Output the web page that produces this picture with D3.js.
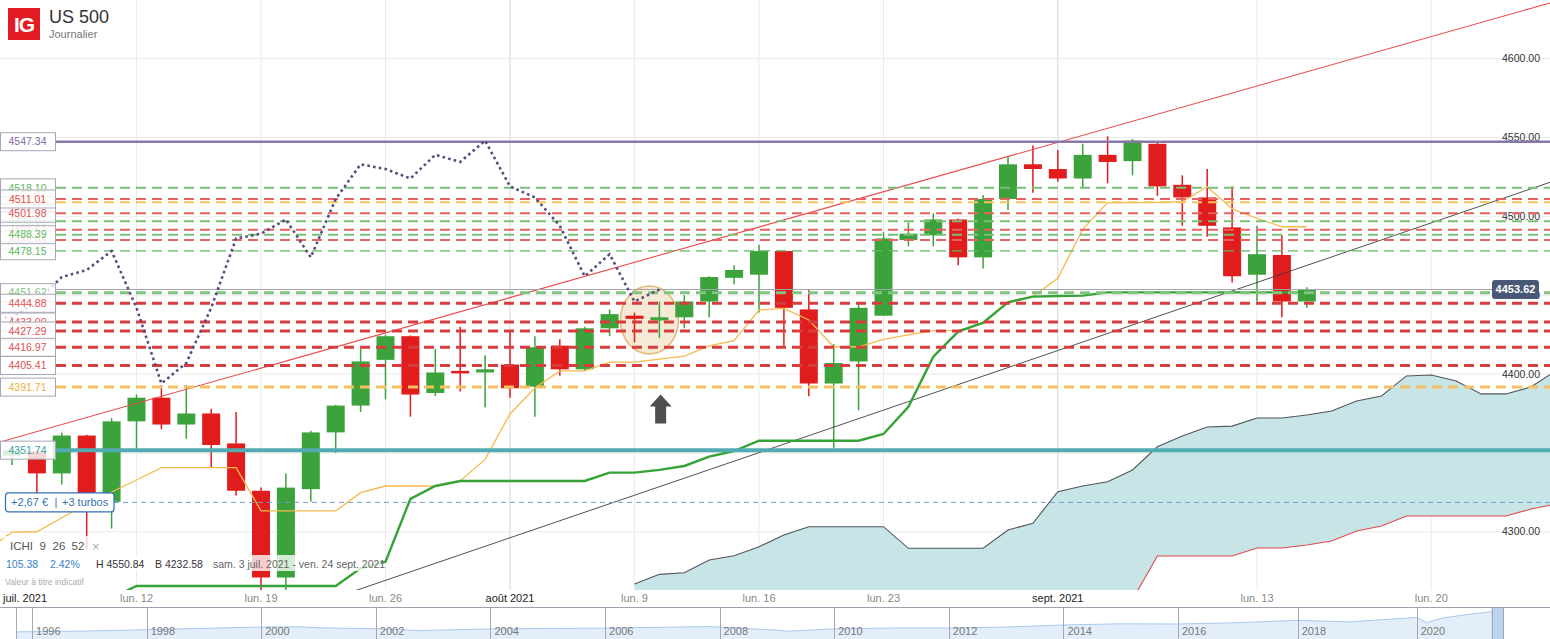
<!DOCTYPE html>
<html>
<head>
<meta charset="utf-8">
<script src="https://cdn.jsdelivr.net/npm/d3@7"></script>
<style>
body { margin: 0; background: #fff; }
svg { display: block; font-family: "Liberation Sans", Arial, sans-serif; }
</style>
</head>
<body>
<div id="the_chart"></div>
<script>
// bougies journalieres, index 0 = lun. 5 juil. 2021, index 52 = mer. 15 sept.
var opens  = [4348.24,4351,4337,4361,4319,4370,4385,4368,4375,4356,4326,4271,4327,4363,4380,4409,4424,4388,4402,4401,
              4406,4392,4418,4403,4429,4437,4434,4436,4446,4461,4463,4478,4441,4394,4408,4437,4485,4488,4498,4474,
              4511,4533,4530,4524,4539,4535,4546,4520,4512,4493,4463,4475.5,4446];
var highs  = [4354,4352,4363,4361.5,4372,4387,4393,4393,4378,4376,4328,4337,4364,4380.5,4416,4425,4424.5,4416,4430,4412,
              4427,4424,4422,4430,4441,4439,4446,4450,4462,4469,4482,4478.5,4454,4419,4445,4490,4496,4502,4498.5,4513.5,
              4538,4545,4542,4546,4550.84,4549,4547,4526,4530,4519,4494,4488,4455];
var lows   = [4342.3,4320,4330,4289,4302,4351,4365,4359,4341,4323,4232.58,4258,4319,4350,4376,4384,4373,4386,4389,4379,
              4385,4373,4399,4402,4424,4420,4423,4429,4436,4457,4439,4418,4386,4353,4377,4437,4481,4481,4469,4467,
              4504,4515,4522,4518,4521,4526,4513,4494,4487,4458,4446,4436,4442];
var closes = [4351.8,4337,4361,4320,4370,4385,4368,4375,4355,4326,4271,4328,4363,4380,4408,4424,4387,4401,4400.5,4403,
              4391,4417,4403,4429,4438,4435,4436,4446,4461.5,4466,4478,4442,4394,4407,4442,4486,4489,4498,4474,4511,
              4533,4530,4524,4539,4534.5,4548,4519,4512,4494,4462,4476,4446,4453.62];

// Ichimoku 9 26 52
var tenkanStart = -1;
var tenkan = [4288.6,4299.7,4300,4308.9,4317.6,4325.2,4332.8,4340.6,4340.6,4340.6,4340.6,4313.3,4313.2,4313.2,4313.2,
              4324.8,4329,4329,4329,4332.2,4345.9,4374.7,4391.2,4402,4402,4407.5,4407.5,4409.4,4411.4,4417.8,4421.2,
              4440.6,4441.7,4434.3,4417.3,4417.3,4422,4424.8,4427.5,4427.7,4432,4446,4449.1,4460.7,4491.8,4508.7,
              4508.7,4508.8,4509.3,4518.8,4504.7,4498.8,4493.4,4493.4];
var kijunStart = -1;
var kijun = [4250,4250,4250,4250,4250,4258,4265.6,4265.6,4265.6,4265.6,4265.6,4265.6,4265.6,4265.6,4265.6,4276.8,4281,
             4320.8,4329,4332.2,4332.2,4332.2,4332.2,4332.2,4332.2,4337.5,4337.5,4339.2,4341.7,4347.6,4351.2,4357.7,
             4357.7,4357.7,4357.7,4357.7,4362,4379.3,4411,4426.9,4432.6,4445.5,4449.1,4449.5,4449.7,4451.8,4451.8,
             4451.8,4451.8,4451.8,4451.8,4451.8,4451.8,4451.8];
var cloudStart = 25;
var spanTop = [4266.9,4273,4274,4282.1,4284.8,4290.5,4297.9,4303.2,4303.2,4303.2,4303.2,4289.5,4289.5,4289.5,4289.5,
               4301.1,4305.4,4325.4,4329,4331.7,4339.2,4353.9,4360.7,4366.4,4367,4372.1,4372.1,4374,4376.6,4382.9,
               4386.1,4398.8,4399.4,4395.6,4387.4,4387.4,4391.8,4402];
var spanBottom = [4245,4245,4245,4245,4245,4245,4245,4245,4245,4245,4245,4245,4245,4245,4245,4245,4248,4250,4252,4254,
                  4257,4284.6,4284.6,4284.6,4284.6,4289.7,4289.7,4291.6,4294.1,4300.5,4303.6,4310,4310,4310,4310,4310,
                  4314.4,4317.5];
var chikouShift = 26;

// niveaux traces
var levelValues = [4547.34,4518.10,4511.01,4508.92,4501.98,4496.91,4491.52,4488.39,4484.96,4478.15,
                   4451.62,4444.88,4433.00,4427.29,4416.97,4405.41,4391.71,4351.74];
var levelKinds  = ["violet","vert","rouge","orange","rouge","vert","rouge","vert","rouge","vertFin",
                   "vertFort","rougeFort","rougeFort","rougeFort","rougeFort","rougeFort","orangeFort","turquoise"];
// ordre d'empilement des etiquettes (les premieres sont recouvertes)
var labelOrder = [3,5,6,8,12,0,1,4,9,2,7,10,11,13,14,15,16,17];

var orderLevel = 4318.6;
var orderText = ["+2,67 €", "|", "+3 turbos"];
var lastPrice = 4453.62;

var trendRed   = [[-0.482, 4356.9], [61.767, 4635.3]];
var trendBlack = [[10, 4242.2], [61.767, 4521.6]];

var circleSpot = [25.6, 4434.3];
var arrowSpot  = [26.05, 4387];

var yTicks = [4300, 4350, 4400, 4450, 4500, 4550, 4600];
var tickIdx  = [-3, 5, 10, 15, 20, 25, 30, 35, 42, 50, 57];
var tickText = ["juil. 2021","lun. 12","lun. 19","lun. 26","août 2021","lun. 9","lun. 16","lun. 23","sept. 2021","lun. 13","lun. 20"];
var tickMonth = [true,false,false,false,true,false,false,false,true,false,false];

// navigateur (historique)
var navYears  = [1995.72,1996,1997,1998,1999,2000,2000.7,2001,2002,2002.8,2003,2004,2005,2006,2007,2007.8,2008,2009,2009.2,
                 2010,2011,2012,2013,2014,2015,2016,2017,2018,2018.9,2019,2020,2020.2,2020.5,2021,2021.5,2021.73];
var navValues = [580,615,740,970,1230,1460,1500,1320,1150,800,880,1110,1200,1270,1420,1550,1450,900,700,
                 1120,1280,1280,1460,1840,2060,2020,2260,2700,2400,2510,3230,2300,3100,3750,4300,4450];
var navTicks = [1996,1998,2000,2002,2004,2006,2008,2010,2012,2014,2016,2018,2020];
var navWindow = [2021.5, 2021.73];

var levelStyle = {
    violet:     {color: "#8878aa", width: 2.5, dash: null,   text: "#7a6aa0"},
    vert:       {color: "#78c078", width: 2,   dash: "10,6", text: "#5cb85c"},
    rouge:      {color: "#e86262", width: 2,   dash: "10,6", text: "#e05050"},
    orange:     {color: "#f5c25c", width: 2,   dash: "10,6", text: "#f0b040"},
    vertFin:    {color: "#5cb85c", width: 1.3, dash: "10,6", text: "#5cb85c"},
    vertFort:   {color: "#80c480", width: 3,   dash: "10,6", text: "#7cc47c"},
    rougeFort:  {color: "#d83c3c", width: 3,   dash: "10,6", text: "#e05050"},
    orangeFort: {color: "#f5c060", width: 3,   dash: "10,6", text: "#f0b040"},
    turquoise:  {color: "#52aab2", width: 4,   dash: null,   text: "#3a9fa8"}
};

var w = 1550;
var h = 639;
var plotBottom = 590;
var labelW = 55;

var svg = d3.select("#the_chart")
            .append("svg")
            .attr("width", w)
            .attr("height", h);

svg.append("rect").attr("width", w).attr("height", h).attr("fill", "#fff");

svg.append("clipPath").attr("id", "plot")
   .append("rect").attr("x", 0).attr("y", 0).attr("width", w).attr("height", plotBottom);

var x = d3.scaleLinear().domain([-0.482, 61.767]).range([0, w]);
var y = d3.scaleLinear().domain([4300, 4550]).range([531.75, 137.5]);

// grille
svg.append("g").selectAll("line")
   .data(yTicks)
 .enter().append("line")
   .attr("x1", 0).attr("x2", w)
   .attr("y1", function(d) { return y(d); })
   .attr("y2", function(d) { return y(d); })
   .attr("stroke", "#ebebeb").attr("stroke-width", 1);

svg.append("g").selectAll("line")
   .data(tickIdx.filter(function(d) { return x(d) > 0; }))
 .enter().append("line")
   .attr("x1", function(d) { return x(d); })
   .attr("x2", function(d) { return x(d); })
   .attr("y1", 0).attr("y2", plotBottom)
   .attr("stroke", function(d) { return tickMonth[tickIdx.indexOf(d)] ? "#d6d6d6" : "#ebebeb"; })
   .attr("stroke-width", 1);

svg.append("g").selectAll("text")
   .data(yTicks)
 .enter().append("text")
   .attr("x", 1540)
   .attr("y", function(d) { return y(d); })
   .attr("dy", "0.35em")
   .attr("text-anchor", "end")
   .attr("font-size", "10.5px")
   .attr("fill", "#333")
   .text(function(d) { return d.toFixed(2); });

var plot = svg.append("g").attr("clip-path", "url(#plot)");

// nuage
var cloud = spanTop.map(function(v, k) { return [cloudStart + k, v, spanBottom[k]]; });
plot.append("path")
    .datum(cloud)
    .attr("fill", "#c7e5e7")
    .attr("d", d3.area()
        .x(function(d) { return x(d[0]); })
        .y0(function(d) { return y(d[2]); })
        .y1(function(d) { return y(d[1]); }));
plot.append("path")
    .datum(cloud)
    .attr("fill", "none").attr("stroke", "#50555c").attr("stroke-width", 1.1)
    .attr("d", d3.line().x(function(d) { return x(d[0]); }).y(function(d) { return y(d[1]); }));
plot.append("path")
    .datum(cloud)
    .attr("fill", "none").attr("stroke", "#dd4b4b").attr("stroke-width", 1.1)
    .attr("d", d3.line().x(function(d) { return x(d[0]); }).y(function(d) { return y(d[2]); }));

// zone entouree
plot.append("ellipse")
    .attr("cx", x(circleSpot[0]))
    .attr("cy", y(circleSpot[1]))
    .attr("rx", 29).attr("ry", 34)
    .attr("fill", "#f6e9d6")
    .attr("stroke", "#e2b877").attr("stroke-width", 1.5);

// bougies
var candles = opens.map(function(o, i) {
    return {i: i, o: o, h: highs[i], l: lows[i], c: closes[i]};
});
var cg = plot.append("g");
cg.selectAll("line")
  .data(candles)
 .enter().append("line")
  .attr("x1", function(d) { return x(d.i); })
  .attr("x2", function(d) { return x(d.i); })
  .attr("y1", function(d) { return y(d.h); })
  .attr("y2", function(d) { return y(d.l); })
  .attr("stroke", function(d) { return d.c >= d.o ? "#3ca33c" : "#e01c1c"; })
  .attr("stroke-width", 1.5);
cg.selectAll("rect")
  .data(candles)
 .enter().append("rect")
  .attr("x", function(d) { return x(d.i) - 9; })
  .attr("width", 18)
  .attr("y", function(d) { return y(Math.max(d.o, d.c)); })
  .attr("height", function(d) { return Math.max(2.5, Math.abs(y(d.o) - y(d.c))); })
  .attr("fill", function(d) { return d.c >= d.o ? "#3ca33c" : "#e01c1c"; });

// droites de tendance
[trendRed, trendBlack].forEach(function(t, k) {
    plot.append("line")
        .attr("x1", x(t[0][0])).attr("y1", y(t[0][1]))
        .attr("x2", x(t[1][0])).attr("y2", y(t[1][1]))
        .attr("stroke", k == 0 ? "#e84a4a" : "#3c3c3c")
        .attr("stroke-width", k == 0 ? 1.1 : 0.9);
});

var idxLine = function(start) {
    return d3.line()
        .x(function(d, k) { return x(start + k); })
        .y(function(d) { return y(d); });
};
plot.append("path").datum(tenkan)
    .attr("fill", "none").attr("stroke", "#f6b94c").attr("stroke-width", 1.3)
    .attr("d", idxLine(tenkanStart));
plot.append("path").datum(kijun)
    .attr("fill", "none").attr("stroke", "#35a335").attr("stroke-width", 2.4)
    .attr("d", idxLine(kijunStart));

// niveaux horizontaux
plot.append("line")
    .attr("x1", labelW + 1).attr("x2", 1492)
    .attr("y1", y(lastPrice)).attr("y2", y(lastPrice))
    .attr("stroke", "#a0a5ae").attr("stroke-width", 1.2);

plot.append("g").selectAll("line")
    .data(levelValues)
  .enter().append("line")
    .attr("x1", labelW + 1).attr("x2", w)
    .attr("y1", function(d) { return y(d); })
    .attr("y2", function(d) { return y(d); })
    .attr("stroke", function(d, i) { return levelStyle[levelKinds[i]].color; })
    .attr("stroke-width", function(d, i) { return levelStyle[levelKinds[i]].width; })
    .attr("stroke-dasharray", function(d, i) { return levelStyle[levelKinds[i]].dash; });

plot.append("line")
    .attr("x1", 114).attr("x2", w)
    .attr("y1", y(orderLevel)).attr("y2", y(orderLevel))
    .attr("stroke", "#6f9fd2").attr("stroke-width", 1)
    .attr("stroke-dasharray", "5,4");

// chikou : cloture decalee de 26 seances
var chikou = d3.range(-1, closes.length - chikouShift).map(function(i) {
    return [i, closes[i + chikouShift]];
});
plot.append("path").datum(chikou)
    .attr("fill", "none").attr("stroke", "#5a4a7e").attr("stroke-width", 2.6)
    .attr("stroke-dasharray", "2.6,3.2")
    .attr("d", d3.line().x(function(d) { return x(d[0]); }).y(function(d) { return y(d[1]); }));

// fleche
var ax = x(arrowSpot[0]), ay = y(arrowSpot[1]);
svg.append("path")
   .attr("d", "M" + ax + "," + ay + " l11,12 l-5.5,0 l0,17 l-11,0 l0,-17 l-5.5,0 z")
   .attr("fill", "#4f4f4f");

// etiquettes de gauche
var lab = svg.append("g").selectAll("g")
    .data(labelOrder)
  .enter().append("g")
    .attr("transform", function(i) { return "translate(0," + y(levelValues[i]) + ")"; });
lab.append("rect")
    .attr("x", 0.5).attr("y", -9).attr("width", labelW).attr("height", 18)
    .attr("fill", "#fff").attr("fill-opacity", 0.82)
    .attr("stroke", "#a6a6b6").attr("stroke-width", 1);
lab.append("text")
    .attr("x", 27.5).attr("dy", "0.36em")
    .attr("text-anchor", "middle")
    .attr("font-size", "10.5px")
    .attr("fill", function(i) { return levelStyle[levelKinds[i]].text; })
    .text(function(i) { return levelValues[i].toFixed(2); });

// ordre turbos
var og = svg.append("g").attr("transform", "translate(0," + y(orderLevel) + ")");
og.append("rect")
  .attr("x", 5.5).attr("y", -9.5).attr("width", 108.5).attr("height", 19).attr("rx", 3)
  .attr("fill", "#fff").attr("stroke", "#3470b4").attr("stroke-width", 1.2);
og.selectAll("text")
  .data(orderText)
 .enter().append("text")
  .attr("x", function(d, k) { return [11, 54.5, 62][k]; })
  .attr("dy", "0.36em")
  .attr("font-size", "11px")
  .attr("fill", "#3470b4")
  .text(function(d) { return d; });

// dernier cours
svg.append("rect")
   .attr("x", 1492).attr("y", y(lastPrice) - 9.5).attr("width", 47).attr("height", 19).attr("rx", 3)
   .attr("fill", "#4a5877");
svg.append("text")
   .attr("x", 1515.5).attr("y", y(lastPrice)).attr("dy", "0.36em")
   .attr("text-anchor", "middle").attr("font-size", "11px").attr("font-weight", "bold")
   .attr("fill", "#fff")
   .text(lastPrice.toFixed(2));

// axe des dates
svg.append("g").selectAll("text")
   .data(tickText)
 .enter().append("text")
   .attr("x", function(d, k) { var px = x(tickIdx[k]); return px < 30 ? 3 : px; })
   .attr("y", 602)
   .attr("text-anchor", function(d, k) { return x(tickIdx[k]) < 30 ? "start" : "middle"; })
   .attr("font-size", "11px")
   .attr("fill", function(d, k) { return tickMonth[k] ? "#222" : "#888"; })
   .text(function(d) { return d; });

// legende ICHI
var first = opens[0], last = closes[closes.length - 1];
var change = last - first;
svg.append("rect").attr("x", 3).attr("y", 536).attr("width", 104).attr("height", 18)
   .attr("fill", "#fff").attr("fill-opacity", 0.78);
svg.append("rect").attr("x", 3).attr("y", 555).attr("width", 378).attr("height", 16)
   .attr("fill", "#fff").attr("fill-opacity", 0.78);
var leg1 = [["ICHI", 10], ["9", 39.5], ["26", 52.5], ["52", 71.5]];
svg.append("g").selectAll("text")
   .data(leg1)
 .enter().append("text")
   .attr("x", function(d) { return d[1]; }).attr("y", 550)
   .attr("font-size", "11.5px").attr("fill", "#555")
   .text(function(d) { return d[0]; });
svg.append("text").attr("x", 92).attr("y", 551)
   .attr("font-size", "13px").attr("fill", "#aaa").text("×");
var leg2 = [[change.toFixed(2), 6, "#3a7fc4"],
            [(change / first * 100).toFixed(2) + "%", 50, "#3a7fc4"],
            ["H " + d3.max(highs).toFixed(2), 96, "#333"],
            ["B " + d3.min(lows).toFixed(2), 155, "#333"],
            ["sam. 3 juil. 2021 - ven. 24 sept. 2021", 213, "#666"]];
svg.append("g").selectAll("text")
   .data(leg2)
 .enter().append("text")
   .attr("x", function(d) { return d[1]; }).attr("y", 568)
   .attr("font-size", "10.5px").attr("fill", function(d) { return d[2]; })
   .text(function(d) { return d[0]; });
svg.append("text").attr("x", 5).attr("y", 585)
   .attr("font-size", "8.5px").attr("fill", "#aaa").text("Valeur à titre indicatif");

// en-tete
svg.append("rect").attr("x", 8).attr("y", 8).attr("width", 32).attr("height", 32).attr("fill", "#e31b23");
svg.append("text").attr("x", 24).attr("y", 32).attr("text-anchor", "middle")
   .attr("font-size", "21px").attr("font-weight", "bold").attr("letter-spacing", "-1")
   .attr("fill", "#fff").text("IG");
svg.append("text").attr("x", 49).attr("y", 23)
   .attr("font-size", "18px").attr("fill", "#333").text("US 500");
svg.append("text").attr("x", 49).attr("y", 38)
   .attr("font-size", "11px").attr("fill", "#777").text("Journalier");

// navigateur
var nx = d3.scaleLinear().domain([1995.72, 2016, 2018, 2020, 2021.73]).range([16, 1178, 1297.7, 1416.7, 1503]);
var ny = d3.scaleLinear().domain([0, 4600]).range([635, 610]);
var nav = svg.append("g");
var navData = navYears.map(function(yr, k) { return [yr, navValues[k]]; });
nav.append("path").datum(navData)
   .attr("fill", "#e4eefa")
   .attr("d", d3.area().x(function(d) { return nx(d[0]); }).y0(h).y1(function(d) { return ny(d[1]); }));
nav.append("path").datum(navData)
   .attr("fill", "none").attr("stroke", "#a9c9ee").attr("stroke-width", 1)
   .attr("d", d3.line().x(function(d) { return nx(d[0]); }).y(function(d) { return ny(d[1]); }));
nav.append("rect")
   .attr("x", nx(navWindow[0])).attr("y", 608)
   .attr("width", nx(navWindow[1]) - nx(navWindow[0])).attr("height", h - 608)
   .attr("fill", "#bcd3ef");
nav.append("line").attr("x1", 0).attr("x2", w).attr("y1", 607.5).attr("y2", 607.5)
   .attr("stroke", "#a0a0b0").attr("stroke-width", 1);
nav.selectAll("line.div")
   .data([1995.72].concat(navTicks).concat(navWindow))
 .enter().append("line")
   .attr("class", "div")
   .attr("x1", function(d) { return Math.round(nx(d)) + 0.5; })
   .attr("x2", function(d) { return Math.round(nx(d)) + 0.5; })
   .attr("y1", 607.5).attr("y2", h)
   .attr("stroke", "#a4a4bc").attr("stroke-width", 1);
nav.selectAll("text")
   .data(navTicks)
 .enter().append("text")
   .attr("x", function(d) { return nx(d) + 4; })
   .attr("y", 635)
   .attr("font-size", "11px").attr("fill", "#777")
   .text(function(d) { return d; });
</script>
</body>
</html>
